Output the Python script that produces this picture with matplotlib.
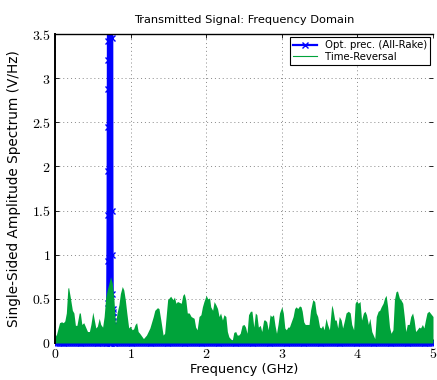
import numpy as np
import matplotlib
matplotlib.use("Agg")
import matplotlib.pyplot as plt
from matplotlib.ticker import FuncFormatter
from matplotlib.patches import Rectangle
from matplotlib.legend_handler import HandlerLine2D

plt.rcParams['mathtext.fontset'] = 'cm'
plt.rcParams['font.family'] = ['DejaVu Sans']

# ---- Time-Reversal spectrum (GHz, V/Hz) ----
tr_freq = [0.00, 0.02, 0.06, 0.087, 0.11, 0.13, 0.15, 0.17, 0.18, 0.20, 0.23, 0.25, 0.27, 0.29,
           0.32, 0.335, 0.355, 0.38, 0.40, 0.43, 0.455, 0.475, 0.50, 0.52, 0.54, 0.56, 0.585,
           0.605, 0.63, 0.65, 0.67, 0.69, 0.715, 0.735, 0.757, 0.78, 0.80, 0.82, 0.845, 0.865,
           0.89, 0.91, 0.93, 0.95, 0.975, 0.995, 1.02, 1.04, 1.06, 1.08, 1.10, 1.12, 1.17, 1.21,
           1.255, 1.30, 1.32, 1.355, 1.375, 1.40, 1.43, 1.45, 1.47, 1.49, 1.53, 1.56, 1.58, 1.60,
           1.62, 1.67, 1.69, 1.71, 1.73, 1.75, 1.775, 1.80, 1.84, 1.86, 1.88, 1.905, 1.93, 1.95,
           1.97, 2.00, 2.02, 2.045, 2.06, 2.085, 2.105, 2.13, 2.15, 2.17, 2.19, 2.215, 2.235,
           2.26, 2.28, 2.30, 2.32, 2.345, 2.365, 2.39, 2.41, 2.43, 2.45, 2.475, 2.50, 2.52, 2.54,
           2.56, 2.585, 2.605, 2.63, 2.65, 2.67, 2.69, 2.715, 2.735, 2.76, 2.78, 2.80, 2.82,
           2.845, 2.865, 2.89, 2.91, 2.93, 2.95, 2.97, 3.00, 3.02, 3.04, 3.06, 3.08, 3.10, 3.125,
           3.15, 3.17, 3.19, 3.21, 3.235, 3.255, 3.27, 3.29, 3.31, 3.34, 3.36, 3.38, 3.41, 3.435,
           3.455, 3.475, 3.50, 3.52, 3.54, 3.56, 3.585, 3.605, 3.63, 3.66, 3.675, 3.70, 3.72,
           3.74, 3.76, 3.785, 3.805, 3.83, 3.85, 3.88, 3.905, 3.925, 3.95, 3.97, 3.99, 4.01,
           4.035, 4.055, 4.08, 4.10, 4.12, 4.145, 4.165, 4.19, 4.21, 4.23, 4.25, 4.275, 4.295,
           4.315, 4.34, 4.36, 4.38, 4.40, 4.425, 4.445, 4.47, 4.49, 4.51, 4.53, 4.555, 4.575,
           4.60, 4.62, 4.64, 4.66, 4.685, 4.705, 4.73, 4.75, 4.77, 4.79, 4.815, 4.835, 4.86,
           4.88, 4.90, 4.92, 4.945, 5.00]
tr_amp = [0.07, 0.10, 0.23, 0.24, 0.23, 0.25, 0.34, 0.62, 0.63, 0.53, 0.37, 0.34, 0.20, 0.20,
          0.34, 0.34, 0.21, 0.23, 0.19, 0.13, 0.13, 0.21, 0.35, 0.26, 0.17, 0.19, 0.28,
          0.21, 0.18, 0.30, 0.51, 0.60, 0.68, 0.75, 0.68, 0.49, 0.21, 0.34, 0.43, 0.56,
          0.64, 0.60, 0.49, 0.34, 0.17, 0.19, 0.15, 0.16, 0.21, 0.23, 0.13, 0.11, 0.05, 0.09,
          0.17, 0.30, 0.37, 0.40, 0.39, 0.26, 0.09, 0.11, 0.30, 0.49, 0.53, 0.49, 0.52, 0.45,
          0.47, 0.45, 0.54, 0.56, 0.49, 0.34, 0.34, 0.30, 0.28, 0.18, 0.15, 0.30, 0.32, 0.41,
          0.47, 0.54, 0.50, 0.51, 0.41, 0.37, 0.47, 0.43, 0.39, 0.30, 0.34, 0.26, 0.32,
          0.30, 0.13, 0.07, 0.05, 0.03, 0.12, 0.13, 0.09, 0.09, 0.11, 0.20, 0.21, 0.18, 0.11,
          0.32, 0.36, 0.36, 0.18, 0.34, 0.32, 0.18, 0.20, 0.13, 0.26, 0.26, 0.24, 0.15,
          0.32, 0.30, 0.32, 0.20, 0.11, 0.21, 0.34, 0.41, 0.34, 0.17, 0.15, 0.18, 0.18, 0.24,
          0.30, 0.39, 0.41, 0.39, 0.42, 0.41, 0.36, 0.24, 0.21, 0.21, 0.21, 0.37, 0.49, 0.47,
          0.34, 0.30, 0.18, 0.17, 0.20, 0.15, 0.28, 0.21, 0.15, 0.43, 0.39, 0.26, 0.26,
          0.17, 0.30, 0.26, 0.17, 0.26, 0.34, 0.36, 0.34, 0.21, 0.15, 0.45, 0.48, 0.45,
          0.47, 0.26, 0.34, 0.36, 0.32, 0.21, 0.28, 0.13, 0.09, 0.05, 0.30, 0.36, 0.37,
          0.41, 0.45, 0.51, 0.54, 0.41, 0.18, 0.11, 0.15, 0.49, 0.58, 0.59, 0.51, 0.49,
          0.45, 0.30, 0.13, 0.21, 0.21, 0.30, 0.34, 0.26, 0.13, 0.15, 0.18, 0.17, 0.21,
          0.17, 0.26, 0.34, 0.36, 0.30]

# ---- Optimal precoding (All-Rake) spectrum: narrow peak near 0.72 GHz, zero elsewhere ----
opt_peak_freq = [0.690, 0.695, 0.698, 0.700, 0.701, 0.702, 0.703, 0.704, 0.705,
                 0.710, 0.714, 0.718, 0.722, 0.726, 0.730, 0.734, 0.738, 0.742, 0.746, 0.750,
                 0.753, 0.755, 0.757, 0.759, 0.761, 0.764, 0.768, 0.772, 0.776, 0.780]
opt_peak_amp = [0.0, 0.45, 0.93, 1.45, 1.95, 2.45, 2.88, 3.20, 3.42,
                20.0, 0.0, 20.0, 3.50, 20.0, 0.0, 20.0, 0.0, 20.0, 0.0, 20.0,
                3.45, 1.50, 1.00, 0.55, 0.38, 0.30, 0.25, 0.35, 0.20, 0.0]
opt_base_freq = np.linspace(0.0, 5.0, 201)   # spectrum is zero off the peak

base_mask = (opt_base_freq < 0.69) | (opt_base_freq > 0.78)
opt_freq = np.concatenate([opt_base_freq[base_mask], opt_peak_freq])
opt_amp = np.concatenate([np.zeros(base_mask.sum()), opt_peak_amp])
order = np.argsort(opt_freq, kind='stable')
opt_freq = opt_freq[order]
opt_amp = opt_amp[order]

x_ticks = [0, 1, 2, 3, 4, 5]
y_ticks = [0, 0.5, 1, 1.5, 2, 2.5, 3, 3.5]


class EndMarkerHandler(HandlerLine2D):
    def get_xdata(self, legend, xdescent, ydescent, width, height, fontsize):
        xdata = np.array([-xdescent, -xdescent + width])
        return xdata, np.array([-xdescent + width])


fig = plt.figure(figsize=(4.37, 3.80), dpi=100)
ax = fig.add_axes([55/437, 37/380, 378/437, 309/380])

green = '#00A33A'
ln, = ax.plot(opt_freq, opt_amp, color='blue', lw=2.0, marker='x', ms=4, mew=1.0,
              label='Opt. prec. (All-Rake)', zorder=2)
ln.set_clip_path(Rectangle((0, -0.016), 1, 1.016, transform=ax.transAxes))
ax.fill_between(tr_freq, 0, tr_amp, color=green, lw=0, zorder=2.2)
ax.plot([], [], color=green, lw=0.8, label='Time-Reversal')

ax.set_xlim(0, 5)
ax.set_ylim(0, 3.5)
ax.set_xticks(x_ticks)
ax.set_yticks(y_ticks)
fmt = FuncFormatter(lambda v, p: r'$%g$' % v)
ax.xaxis.set_major_formatter(fmt)
ax.yaxis.set_major_formatter(fmt)
ax.tick_params(direction='in', length=3, width=0.6, labelsize=10, top=True, right=True, pad=3)
ax.grid(True, linestyle=(0, (1, 3)), color='#888888', lw=0.7)
ax.set_axisbelow(True)
ax.spines['bottom'].set_visible(False)
ax.spines['right'].set_visible(False)
ax.spines['left'].set_linewidth(1.4)
ax.spines['top'].set_linewidth(1.0)

ax.set_title('Transmitted Signal: Frequency Domain', fontsize=8.2, pad=8)
ax.set_xlabel('Frequency (GHz)', fontsize=9.4, labelpad=1)
ax.set_ylabel('Single-Sided Amplitude Spectrum (V/Hz)', fontsize=9.8, labelpad=8)

leg = ax.legend(loc='upper right', fontsize=7.3, frameon=True, fancybox=False,
                edgecolor='black', framealpha=1, borderpad=0.3, labelspacing=0.15,
                handlelength=2.3, handletextpad=0.8, borderaxespad=0.3,
                handler_map={ln: EndMarkerHandler()})
leg.get_frame().set_linewidth(0.8)
for h in leg.get_lines()[:1]:
    h.set_linewidth(1.6)

fig.savefig('out.png', dpi=100)
